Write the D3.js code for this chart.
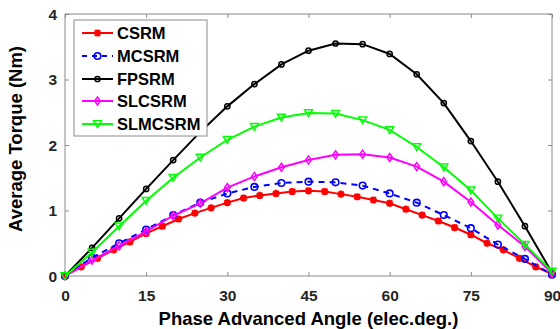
<!DOCTYPE html>
<html><head><meta charset="utf-8">
<script src="https://cdn.jsdelivr.net/npm/d3@7"></script>
<style>body{margin:0;background:#fff;}svg{display:block;font-family:Arial,"Liberation Sans",sans-serif;}</style>
</head><body>
<svg id="c" width="560" height="329"></svg>
<script>
const xTicks = [0, 15, 30, 45, 60, 75, 90];
const yTicks = [0, 1, 2, 3, 4];
const angles3 = [0,3,6,9,12,15,18,21,24,27,30,33,36,39,42,45,48,51,54,57,60,63,66,69,72,75,78,81,84,87,90];
const angles5 = [0,5,10,15,20,25,30,35,40,45,50,55,60,65,70,75,80,85,90];
const csrm = [0,0.14,0.27,0.40,0.52,0.65,0.76,0.87,0.96,1.04,1.12,1.19,1.23,1.26,1.29,1.30,1.29,1.25,1.21,1.16,1.11,1.02,0.93,0.84,0.74,0.63,0.50,0.40,0.27,0.14,0.03];
const mcsrm = [0,0.28,0.50,0.71,0.93,1.12,1.26,1.36,1.42,1.44,1.43,1.38,1.26,1.12,0.93,0.73,0.48,0.26,0.02];
const fpsrm = [0,0.43,0.88,1.33,1.77,2.20,2.59,2.93,3.23,3.44,3.55,3.54,3.39,3.08,2.64,2.06,1.44,0.76,0.05];
const slcsrm = [0,0.24,0.46,0.68,0.92,1.11,1.35,1.52,1.66,1.77,1.85,1.86,1.81,1.67,1.44,1.13,0.78,0.45,0.04];
const slmcsrm = [0,0.36,0.76,1.15,1.50,1.81,2.08,2.28,2.42,2.49,2.48,2.38,2.23,1.97,1.66,1.31,0.88,0.48,0.07];
const seriesNames = ["CSRM","MCSRM","FPSRM","SLCSRM","SLMCSRM"];
const seriesColors = ["#ff0000","#0000ff","#000000","#ff00ff","#00ff00"];

const series = [
  {name:seriesNames[0], color:seriesColors[0], x:angles3, y:csrm, marker:"star", dash:null},
  {name:seriesNames[1], color:seriesColors[1], x:angles5, y:mcsrm, marker:"circle", dash:"6,5"},
  {name:seriesNames[2], color:seriesColors[2], x:angles5, y:fpsrm, marker:"smallcircle", dash:null},
  {name:seriesNames[3], color:seriesColors[3], x:angles5, y:slcsrm, marker:"diamond", dash:null},
  {name:seriesNames[4], color:seriesColors[4], x:angles5, y:slmcsrm, marker:"tri", dash:null}
];

const svg = d3.select("#c");
const L=65, R=552, T=14, B=276;
const x = d3.scaleLinear().domain([0,90]).range([L,R]);
const y = d3.scaleLinear().domain([0,4]).range([B,T]);
const axCol = "#8a8a8a", txtCol = "#262626";

// axes
const gx = svg.append("g").attr("transform",`translate(0,${B})`)
  .call(d3.axisBottom(x).tickValues(xTicks).tickFormat(d3.format("d")).tickSizeInner(-4).tickSizeOuter(0).tickPadding(14));
const gxt = svg.append("g").attr("transform",`translate(0,${T})`)
  .call(d3.axisTop(x).tickValues(xTicks).tickSizeInner(-4).tickSizeOuter(0).tickFormat(""));
const gy = svg.append("g").attr("transform",`translate(${L},0)`)
  .call(d3.axisLeft(y).tickValues(yTicks).tickFormat(d3.format("d")).tickSizeInner(-4).tickSizeOuter(0).tickPadding(8));
const gyr = svg.append("g").attr("transform",`translate(${R},0)`)
  .call(d3.axisRight(y).tickValues(yTicks).tickSizeInner(-4).tickSizeOuter(0).tickFormat(""));
[gx,gxt,gy,gyr].forEach(g=>{
  g.select(".domain").remove();
  g.selectAll(".tick line").attr("stroke",axCol);
  g.selectAll("text").attr("fill",txtCol).style("font-size","15.5px").style("font-weight","bold").style("font-family","Arial, 'Liberation Sans', sans-serif");
});
gy.selectAll("text").attr("dy","0.35em");
svg.append("rect").attr("x",L).attr("y",T).attr("width",R-L).attr("height",B-T)
  .attr("fill","none").attr("stroke",axCol).attr("stroke-width",1);

function drawMarker(g, type, color, cx, cy){
  if(type==="star"){
    const s=3.6;
    g.append("path").attr("d",`M${cx-s},${cy}L${cx+s},${cy}M${cx},${cy-s}L${cx},${cy+s}M${cx-s*0.75},${cy-s*0.75}L${cx+s*0.75},${cy+s*0.75}M${cx-s*0.75},${cy+s*0.75}L${cx+s*0.75},${cy-s*0.75}`)
      .attr("stroke",color).attr("stroke-width",2.2).attr("fill","none");
  } else if(type==="circle"){
    g.append("circle").attr("cx",cx).attr("cy",cy).attr("r",3.3).attr("fill","none").attr("stroke",color).attr("stroke-width",1.6);
  } else if(type==="smallcircle"){
    g.append("circle").attr("cx",cx).attr("cy",cy).attr("r",2.6).attr("fill","none").attr("stroke",color).attr("stroke-width",1.5);
  } else if(type==="diamond"){
    const s=4;
    g.append("path").attr("d",`M${cx},${cy-s}L${cx+s*0.7},${cy}L${cx},${cy+s}L${cx-s*0.7},${cy}Z`)
      .attr("fill","none").attr("stroke",color).attr("stroke-width",1.5);
  } else if(type==="tri"){
    const s=4;
    g.append("path").attr("d",`M${cx-s},${cy-s*0.8}L${cx+s},${cy-s*0.8}L${cx},${cy+s*0.9}Z`)
      .attr("fill","none").attr("stroke",color).attr("stroke-width",1.4);
  }
}

const plot = svg.append("g");
const line = d3.line();
series.forEach(s=>{
  const pts = s.x.map((a,i)=>[x(a), y(s.y[i])]);
  plot.append("path").attr("d",line(pts)).attr("fill","none").attr("stroke",s.color)
    .attr("stroke-width",2).attr("stroke-dasharray",s.dash);
  const mg = plot.append("g");
  pts.forEach(p=>drawMarker(mg,s.marker,s.color,p[0],p[1]));
});

// legend
const lg = svg.append("g");
lg.append("rect").attr("x",74).attr("y",20).attr("width",133).attr("height",116)
  .attr("fill","#fff").attr("stroke",axCol).attr("stroke-width",1);
const ly = [33,56,79,101,124];
series.forEach((s,i)=>{
  lg.append("line").attr("x1",82).attr("x2",113).attr("y1",ly[i]).attr("y2",ly[i])
    .attr("stroke",s.color).attr("stroke-width",2).attr("stroke-dasharray",s.dash?"5,5":null);
  drawMarker(lg,s.marker,s.color,97.5,ly[i]);
  lg.append("text").attr("x",117).attr("y",ly[i]).attr("dy","0.36em").text(s.name)
    .style("font-size","16.5px").style("font-weight","bold").attr("fill","#000");
});

// axis labels
svg.append("text").attr("x",(L+R)/2).attr("y",325).attr("text-anchor","middle")
  .style("font-size","18.5px").style("font-weight","bold").attr("fill","#000")
  .text("Phase Advanced Angle (elec.deg.)");
svg.append("text").attr("transform",`translate(22,139) rotate(-90)`).attr("text-anchor","middle")
  .style("font-size","18.5px").style("font-weight","bold").attr("fill","#000")
  .text("Average Torque (Nm)");
</script>
</body></html>
